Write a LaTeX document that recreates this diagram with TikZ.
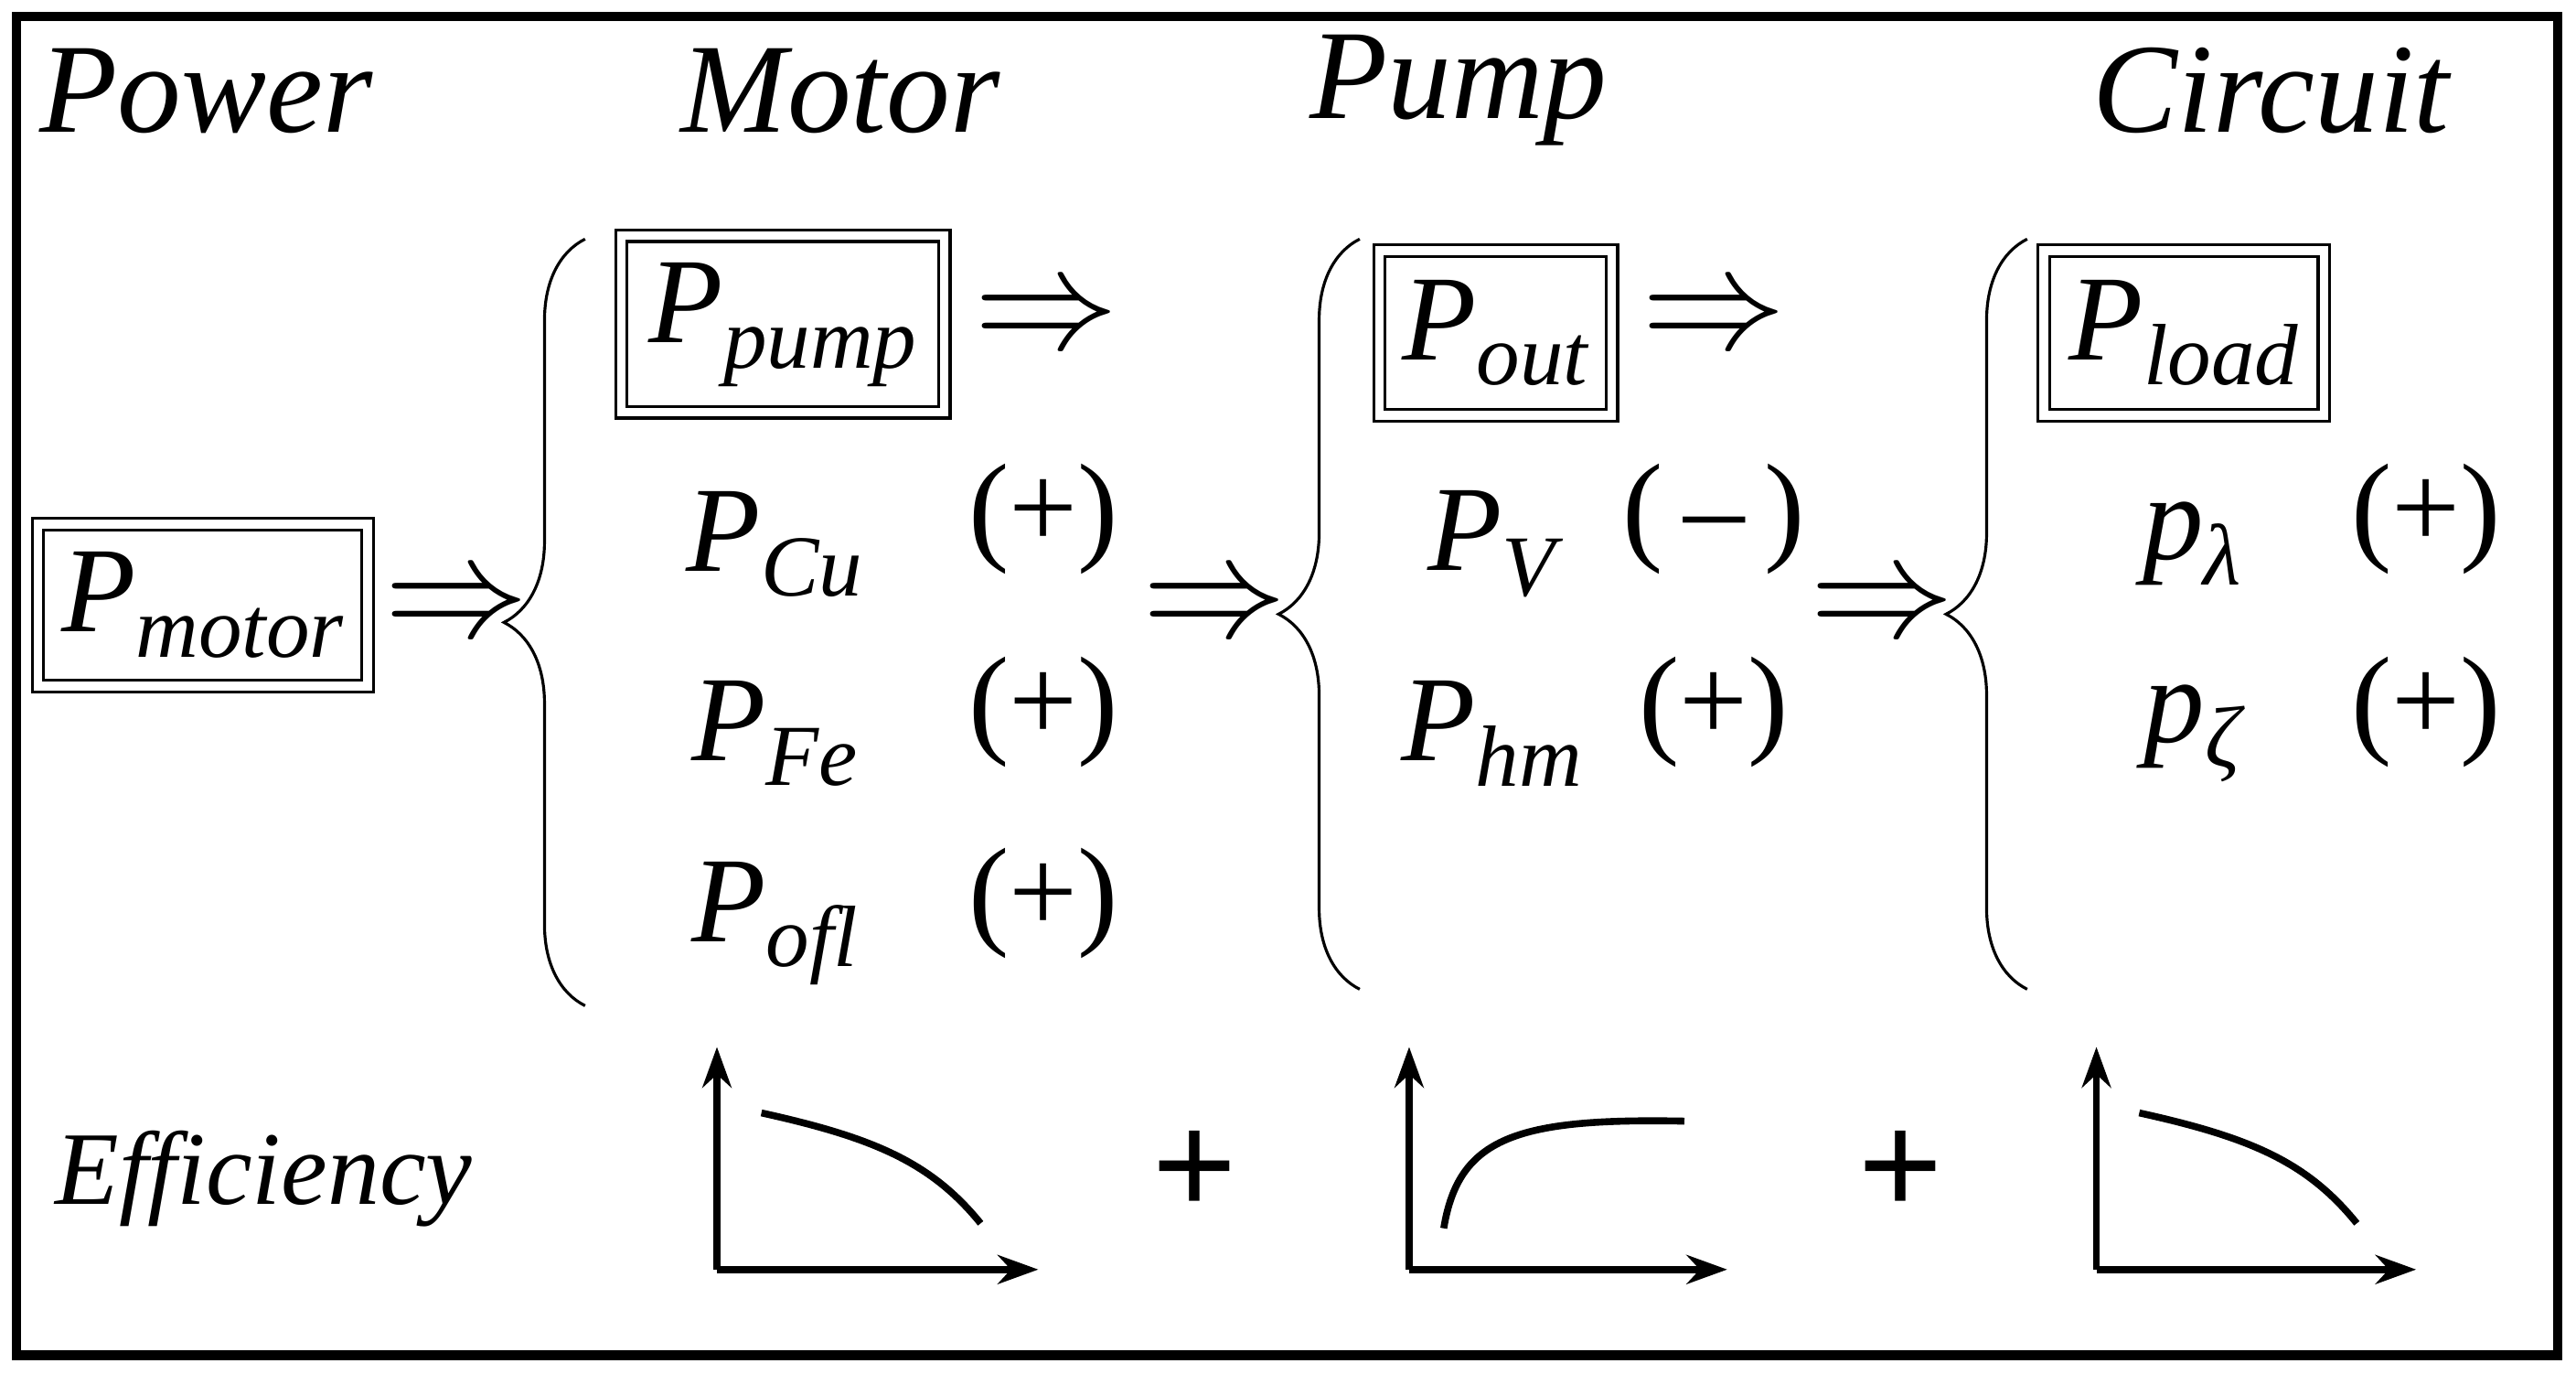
\documentclass[tikz,border=0pt]{standalone}
\usepackage{fontspec}
\setmainfont{Liberation Serif}
\usetikzlibrary{arrows.meta,decorations.pathreplacing}
\newcommand{\Psub}[2]{{\itshape #1}\raisebox{-0.45ex}{\fontsize{15}{17}\selectfont\itshape #2}}
\begin{document}
\begin{tikzpicture}[x=0.01cm,y=-0.01cm,
  hd/.style={font=\fontsize{22}{25}\selectfont\itshape,anchor=center},
  tx/.style={font=\fontsize{21}{24}\selectfont,anchor=center},
  bx/.style={draw,line width=0.5pt,double,double distance=1.5pt,inner sep=0pt},
  imp/.style={font=\fontsize{24}{26}\selectfont,anchor=center},
  br/.style={decorate,decoration={brace,amplitude=14pt,mirror},line width=0.5pt},
  ax/.style={line width=1.2pt,-{Stealth[length=7pt,width=5pt]}},
  cv/.style={line width=1.2pt}]
\useasboundingbox (0,0) rectangle (1563,833);
\draw[line width=1.6pt] (10,10) rectangle (1552,822);
\node[hd] (h1) at (125,55) {Power};
\node[hd] (h2) at (510,55) {Motor};
\node[hd] (h3) at (885,55) {Pump};
\node[hd] (h4) at (1378,55) {Circuit};
% boxes
\draw[bx] (23,318) rectangle (223,416);
\node[tx] (pm) at (123,367) {\Psub{P}{motor}};
\draw[bx] (377,143) rectangle (573,250);
\node[tx] (pp) at (475,197) {\Psub{P}{pump}};
\draw[bx] (837,152) rectangle (978,252);
\node[tx] (po) at (907,202) {\Psub{P}{out}};
\draw[bx] (1240,152) rectangle (1410,252);
\node[tx] (pl) at (1325,202) {\Psub{P}{load}};
% implications
\node[imp] (i1) at (277,370) {$\Rightarrow$};
\node[imp] (i2) at (635,195) {$\Rightarrow$};
\node[imp] (i3) at (737,370) {$\Rightarrow$};
\node[imp] (i4) at (1040,195) {$\Rightarrow$};
\node[imp] (i5) at (1142,370) {$\Rightarrow$};
% braces
\draw[br] (355,145) -- (355,610);
\draw[br] (825,145) -- (825,600);
\draw[br] (1230,145) -- (1230,600);
% motor losses
\node[tx] (a1) at (470,330) {\Psub{P}{Cu}};
\node[tx] (a2) at (470,445) {\Psub{P}{Fe}};
\node[tx] (a3) at (470,560) {\Psub{P}{ofl}};
\node[tx] (s1) at (633,315) {(+)};
\node[tx] (s2) at (633,432) {(+)};
\node[tx] (s3) at (633,548) {(+)};
% pump
\node[tx] (b1) at (905,330) {\Psub{P}{V}};
\node[tx] (b2) at (905,445) {\Psub{P}{hm}};
\node[tx] (t1) at (1040,315) {(\,–\,)};
\node[tx] (t2) at (1040,432) {(+)};
% circuit
\node[tx] (c1) at (1330,330) {\Psub{p}{λ}};
\node[tx] (c2) at (1330,445) {\Psub{p}{ζ}};
\node[tx] (u1) at (1472,315) {(+)};
\node[tx] (u2) at (1472,432) {(+)};
% efficiency
\node[font=\fontsize{18}{20}\selectfont\itshape] (ef) at (160,715) {Efficiency};
\node[font=\fontsize{26}{28}\selectfont\bfseries] (pl1) at (725,712) {+};
\node[font=\fontsize{26}{28}\selectfont\bfseries] (pl2) at (1153,712) {+};
% plot 1
\coordinate (o1) at (435,770);
\draw[ax] (o1) -- (435,635);
\draw[ax] (o1) -- (630,770);
\draw[cv] (462,675) .. controls (530,690) and (565,705) .. (595,742);
% plot 2
\coordinate (o2) at (855,770);
\draw[ax] (o2) -- (855,635);
\draw[ax] (o2) -- (1048,770);
\draw[cv] (876,745) .. controls (885,690) and (920,678) .. (1022,680);
% plot 3
\coordinate (o3) at (1272,770);
\draw[ax] (o3) -- (1272,635);
\draw[ax] (o3) -- (1466,770);
\draw[cv] (1298,675) .. controls (1366,690) and (1400,705) .. (1430,742);
\end{tikzpicture}
\end{document}
